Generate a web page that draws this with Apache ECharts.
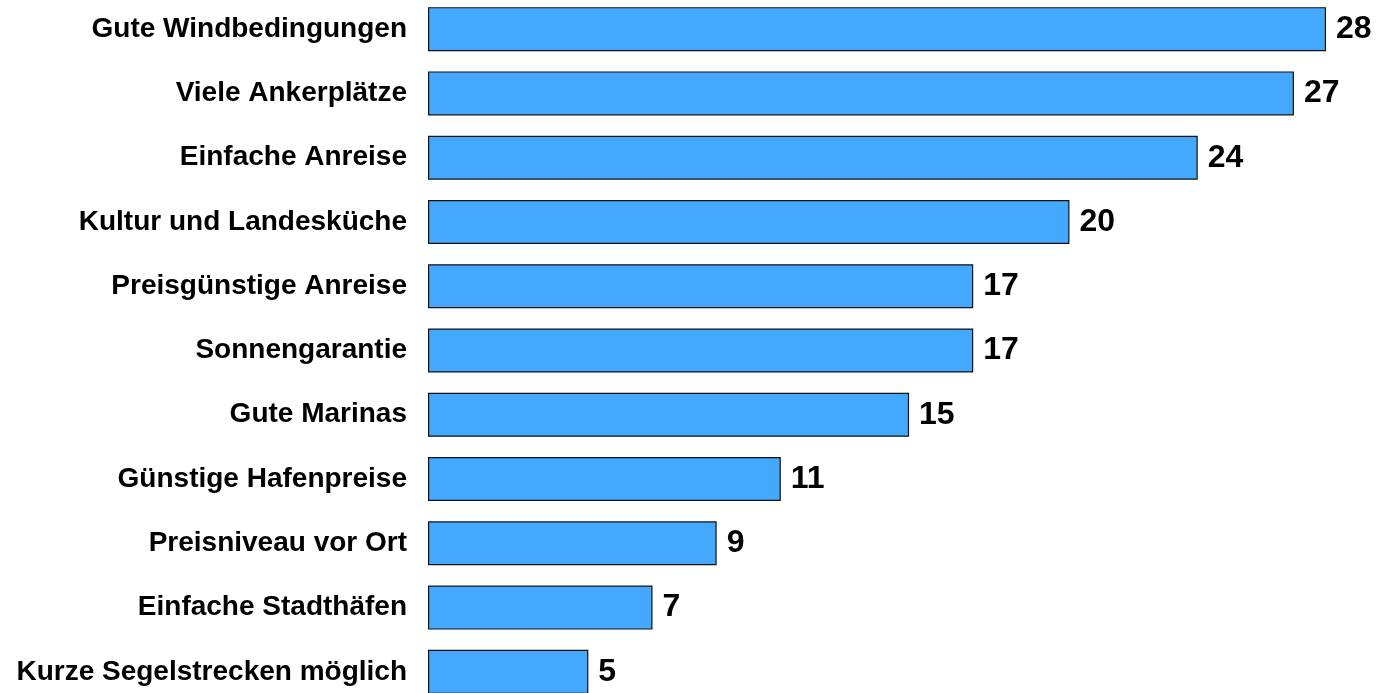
<!DOCTYPE html>
<html>
<head>
<meta charset="utf-8">
<script src="https://cdn.jsdelivr.net/npm/echarts@6/dist/echarts.min.js"></script>
<style>
  html, body { margin: 0; padding: 0; background: #fff; }
  #chart { width: 1378px; height: 693px; }
</style>
</head>
<body>
<div id="chart"></div>
<script>
const categories = [
    'Gute Windbedingungen',
    'Viele Ankerplätze',
    'Einfache Anreise',
    'Kultur und Landesküche',
    'Preisgünstige Anreise',
    'Sonnengarantie',
    'Gute Marinas',
    'Günstige Hafenpreise',
    'Preisniveau vor Ort',
    'Einfache Stadthäfen',
    'Kurze Segelstrecken möglich'
];
const values = [28, 27, 24, 20, 17, 17, 15, 11, 9, 7, 5];

const chart = echarts.init(document.getElementById('chart'));

chart.setOption({
    animation: false,
    backgroundColor: '#fff',
    textStyle: { fontFamily: '"Liberation Sans", Arial, sans-serif' },
    // the last bar runs off the bottom edge, as in the original
    grid: { left: 428, right: 52, top: -3, height: 707, outerBoundsMode: 'none' },
    xAxis: {
        type: 'value',
        min: 0,
        max: 28,
        show: false
    },
    yAxis: {
        type: 'category',
        data: categories,
        inverse: true,
        axisLine: { show: false },
        axisTick: { show: false },
        splitLine: { show: false },
        axisLabel: {
            color: '#000',
            fontWeight: 'bold',
            fontSize: 28,
            margin: 21,
            padding: [4, 0, 0, 0]
        }
    },
    series: [{
        type: 'bar',
        data: values,
        barWidth: 44,
        itemStyle: {
            color: '#44A8FF',
            borderColor: '#111',
            borderWidth: 1.2
        },
        label: {
            show: true,
            position: 'right',
            distance: 10,
            color: '#000',
            fontWeight: 'bold',
            fontSize: 32
        }
    }]
});

window.addEventListener('resize', () => chart.resize());
</script>
</body>
</html>
